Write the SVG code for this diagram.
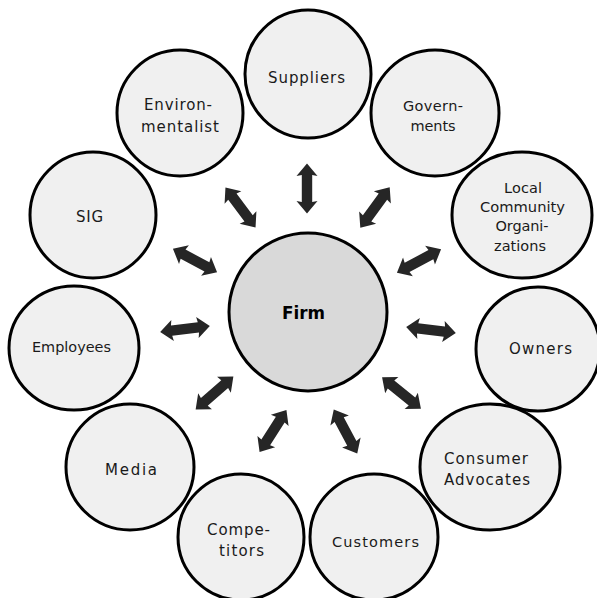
<svg xmlns="http://www.w3.org/2000/svg" xmlns:xlink="http://www.w3.org/1999/xlink" width="597" height="598" viewBox="0 0 597 598">
<style>
.node{fill:#f0f0f0;stroke:#000;stroke-width:3}
.firm{fill:#d9d9d9;stroke:#000;stroke-width:3}
text{font-family:"DejaVu Sans","Liberation Sans",sans-serif;fill:#1a1a1a;text-anchor:middle}
.s15{font-size:15px}
.s13{font-size:14.5px}
.b{font-size:18px;font-weight:bold;fill:#000}
.arr{fill:#262626}
</style>
<defs>
<polygon id="dbl" class="arr" points="-25,0 -12.5,-10.5 -13.5,-5.2 13.5,-5.2 12.5,-10.5 25,0 12.5,10.5 13.5,5.2 -13.5,5.2 -12.5,10.5"/>
</defs>
<rect width="597" height="598" fill="#fff"/>
<g id="connectors">
<use xlink:href="#dbl" transform="translate(307,188.5) rotate(90)"/>
<use xlink:href="#dbl" transform="translate(240.5,207.5) rotate(53)"/>
<use xlink:href="#dbl" transform="translate(195,260.5) rotate(28)"/>
<use xlink:href="#dbl" transform="translate(375,207.5) rotate(-54)"/>
<use xlink:href="#dbl" transform="translate(419,261) rotate(-28)"/>
<use xlink:href="#dbl" transform="translate(185,329) rotate(-7)"/>
<use xlink:href="#dbl" transform="translate(431,330) rotate(7)"/>
<use xlink:href="#dbl" transform="translate(214.5,393) rotate(-41)"/>
<use xlink:href="#dbl" transform="translate(401.5,393) rotate(39)"/>
<use xlink:href="#dbl" transform="translate(273,431) rotate(-57.5)"/>
<use xlink:href="#dbl" transform="translate(345.5,431.5) rotate(62)"/>
</g>
<g id="firm">
<ellipse class="firm" cx="308" cy="312" rx="79" ry="79"/>
<text class="b" x="303.5" y="319" textLength="43" lengthAdjust="spacingAndGlyphs">Firm</text>
</g>
<g id="suppliers">
<ellipse class="node" cx="308" cy="74" rx="63" ry="64"/>
<text class="s15" x="306.5" y="83" textLength="77">Suppliers</text>
</g>
<g id="environmentalist">
<ellipse class="node" cx="180" cy="113" rx="63" ry="63"/>
<text class="s15" x="178" y="110" textLength="68">Environ-</text>
<text class="s15" x="180" y="132" textLength="78">mentalist</text>
</g>
<g id="governments">
<ellipse class="node" cx="435" cy="113" rx="64" ry="63"/>
<text class="s13" x="433" y="111" textLength="60">Govern-</text>
<text class="s13" x="433" y="131" textLength="45">ments</text>
</g>
<g id="local-community">
<ellipse class="node" cx="522" cy="215" rx="70" ry="63"/>
<text class="s13" x="523" y="193" textLength="38">Local</text>
<text class="s13" x="522.5" y="212" textLength="85" lengthAdjust="spacingAndGlyphs">Community</text>
<text class="s13" x="522" y="231" textLength="53">Organi-</text>
<text class="s13" x="520" y="251" textLength="52">zations</text>
</g>
<g id="sig">
<ellipse class="node" cx="93" cy="215" rx="63" ry="63"/>
<text class="s15" x="89.5" y="222" textLength="27">SIG</text>
</g>
<g id="employees">
<ellipse class="node" cx="74" cy="348" rx="65" ry="62"/>
<text class="s13" x="71.5" y="352" textLength="79" lengthAdjust="spacingAndGlyphs">Employees</text>
</g>
<g id="owners">
<ellipse class="node" cx="538" cy="349" rx="62" ry="62"/>
<text class="s15" x="540.5" y="354" textLength="63">Owners</text>
</g>
<g id="media">
<ellipse class="node" cx="130" cy="467" rx="64" ry="63"/>
<text class="s15" x="131" y="475" textLength="52">Media</text>
</g>
<g id="consumer-advocates">
<ellipse class="node" cx="490" cy="467" rx="70" ry="63"/>
<text class="s15" x="486" y="464" textLength="84">Consumer</text>
<text class="s15" x="487" y="485" textLength="86">Advocates</text>
</g>
<g id="competitors">
<ellipse class="node" cx="241" cy="537" rx="63" ry="63"/>
<text class="s15" x="238.5" y="535" textLength="63">Compe-</text>
<text class="s15" x="241.5" y="556" textLength="45">titors</text>
</g>
<g id="customers">
<ellipse class="node" cx="374" cy="537" rx="64" ry="63"/>
<text class="s13" x="375.5" y="547" textLength="87">Customers</text>
</g>
</svg>
